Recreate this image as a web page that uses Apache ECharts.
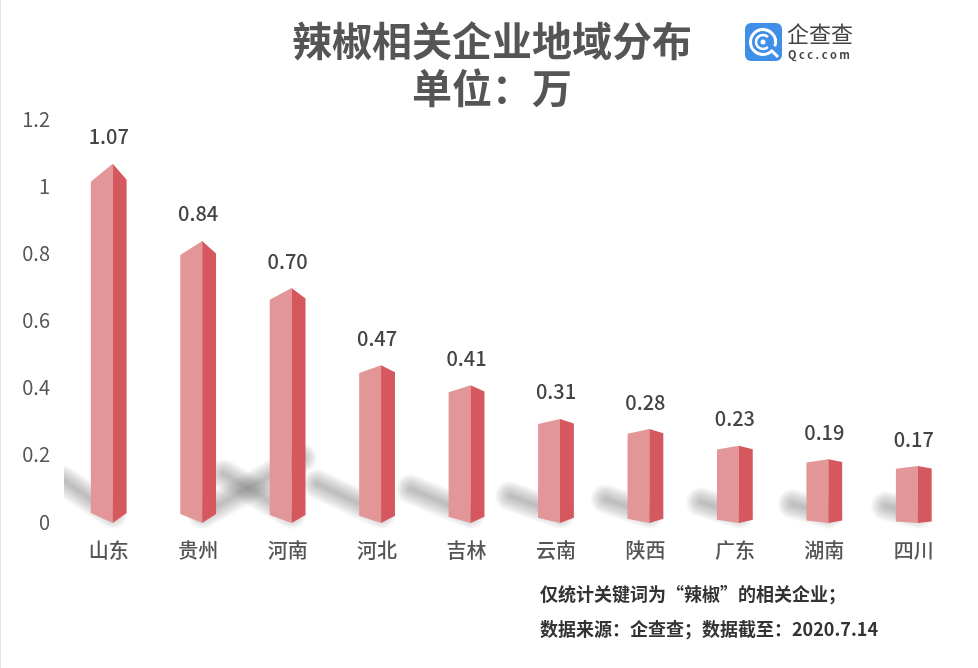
<!DOCTYPE html>
<html>
<head>
<meta charset="utf-8">
<script src="https://cdn.jsdelivr.net/npm/echarts@6/dist/echarts.min.js"></script>
<style>
  html, body {margin: 0; padding: 0; background: #fff;}
  #chart {width: 978px; height: 668px;}
</style>
</head>
<body>
<div id="chart"></div>
<script>
const province_ls = ['山东', '贵州', '河南', '河北', '吉林', '云南', '陕西', '广东', '湖南', '四川'];
const company_ls = [1.07, 0.84, 0.70, 0.47, 0.41, 0.31, 0.28, 0.23, 0.19, 0.17];
const y_tick_ls = ['0', '0.2', '0.4', '0.6', '0.8', '1', '1.2'];
const title_ls = ['辣椒相关企业地域分布', '单位：万'];
const note_ls = ['仅统计关键词为“辣椒”的相关企业；', '数据来源：企查查；数据截至：2020.7.14'];

// floor shadow of each bar, offset in px from the bar foot (decoration only)
const shadow_dx = [-50, 100, -68, -64, -60, -50, -44, -38, -36, -32];
const shadow_dy = [-34, -56, -40, -30, -25, -18, -15, -12, -10, -8];

const font = '"Noto Sans CJK SC", "Noto Sans", sans-serif';

function render_shadow(params, api) {
  const i = api.value(0);
  const foot = api.coord([i, 0]);
  const x = foot[0] + 4, y = foot[1] - 8;
  const end = [x + shadow_dx[i], y + shadow_dy[i]];
  // no blur filter here, so stack soft strokes of growing width
  const layers = [];
  for (let w = 30; w >= 2; w -= 2) {
    layers.push({
      type: 'polyline',
      shape: {points: [[x, y], end]},
      style: {fill: null, stroke: 'rgba(120,120,120,0.035)', lineWidth: w, lineCap: 'round'},
      silent: true
    });
  }
  return {
    type: 'group',
    children: layers,
    clipPath: {type: 'rect', shape: {x: params.coordSys.x, y: 0, width: params.coordSys.width, height: 668}}
  };
}

function render_bar(params, api) {
  const i = api.value(0);
  const top = api.coord([i, api.value(1)]);
  const foot = api.coord([i, 0]);
  const half = api.size([1, 0])[0] * 0.2;
  const ridge = top[0] + 4;
  const left = top[0] - half, right = top[0] + half;
  const height = foot[1] - top[1];
  // the pillars are seen in perspective: tall ones fall off more at the top, left ones at the foot
  const top_drop = height * 0.05;
  const foot_drop = 10 - i * 0.95;
  const apex = top[1] + 1;
  const base = foot[1] + 1;
  return {
    type: 'group',
    children: [
      {type: 'polygon',
        shape: {points: [[left, apex + top_drop], [ridge, apex], [ridge, base], [left, base - foot_drop]]},
        style: {fill: '#e29697'}},
      {type: 'polygon',
        shape: {points: [[ridge, apex], [right, apex + top_drop * 0.9], [right, base - foot_drop], [ridge, base]]},
        style: {fill: '#d6585f'}},
      {type: 'text',
        style: {x: top[0], y: apex - 27, text: api.value(1).toFixed(2), align: 'center', verticalAlign: 'middle',
          fill: '#444', font: '500 20px ' + font}}
    ]
  };
}

const chart = echarts.init(document.getElementById('chart'));
const points = company_ls.map((v, i) => [i, v]);

const option = {
  backgroundColor: '#fff',
  animation: false,
  grid: {left: 64, right: 19.5, top: 119, height: 403},
  xAxis: {
    type: 'category', data: province_ls,
    axisLine: {show: false}, axisTick: {show: false},
    axisLabel: {margin: 18, fontSize: 20, fontFamily: font, fontWeight: 500, color: '#555'}
  },
  yAxis: {
    type: 'value', min: 0, max: 1.2, interval: 0.2,
    splitLine: {show: false}, axisLine: {show: false}, axisTick: {show: false},
    axisLabel: {
      margin: 14, fontSize: 20, fontFamily: font, color: '#555',
      formatter: (val) => y_tick_ls[Math.round(val / 0.2)]
    }
  },
  series: [
    {type: 'custom', renderItem: render_shadow, data: points, z: 1, clip: false},
    {type: 'custom', renderItem: render_bar, data: points, z: 2, clip: false}
  ],
  graphic: [
    {type: 'rect', left: 0, top: 0, shape: {width: 1, height: 668}, style: {fill: '#e4e4e4'}},
    {type: 'text', x: 492, y: 41, style: {text: title_ls[0], align: 'center', verticalAlign: 'middle', fill: '#555', font: 'bold 40px ' + font}},
    {type: 'text', x: 492, y: 88, style: {text: title_ls[1], align: 'center', verticalAlign: 'middle', fill: '#555', font: 'bold 40px ' + font}},
    // logo
    {type: 'rect', shape: {x: 745, y: 23, width: 37, height: 38, r: 6}, style: {fill: '#3f8fe8'}},
    {type: 'arc', shape: {cx: 763, cy: 42, r: 12.5, startAngle: 0.75, endAngle: 0.35, clockwise: true}, style: {stroke: '#fff', fill: null, lineWidth: 3}},
    {type: 'arc', shape: {cx: 763, cy: 42, r: 7, startAngle: 0.8, endAngle: -0.8, clockwise: true}, style: {stroke: '#fff', fill: null, lineWidth: 2.5}},
    {type: 'circle', shape: {cx: 763, cy: 42, r: 2.5}, style: {fill: '#fff'}},
    {type: 'line', shape: {x1: 771, y1: 50, x2: 778, y2: 57}, style: {stroke: '#fff', lineWidth: 3}},
    {type: 'text', x: 787, y: 34, style: {text: '企查查', verticalAlign: 'middle', fill: '#444', font: '22px ' + font}},
    {type: 'text', x: 788, y: 55, style: {text: 'Q c c . c o m', verticalAlign: 'middle', fill: '#444', font: 'bold 11px ' + font}},
    // notes
    {type: 'text', x: 540, y: 594, style: {text: note_ls[0], verticalAlign: 'middle', fill: '#333', font: 'bold 18px ' + font}},
    {type: 'text', x: 540, y: 629, style: {text: note_ls[1], verticalAlign: 'middle', fill: '#333', font: 'bold 18px ' + font}}
  ]
};
chart.setOption(option);
</script>
</body>
</html>
